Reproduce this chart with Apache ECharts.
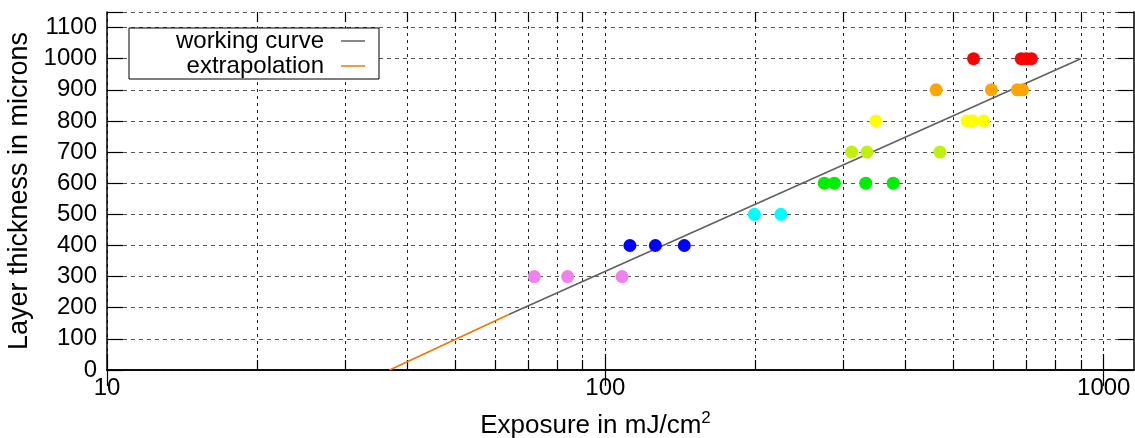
<!DOCTYPE html>
<html>
<head>
<meta charset="utf-8">
<script src="https://cdn.jsdelivr.net/npm/echarts@6/dist/echarts.min.js"></script>
<style>
  html, body { margin: 0; padding: 0; background: #fff; }
  #chart { width: 1135px; height: 438px; }
</style>
</head>
<body>
<div id="chart"></div>
<script>
// layer thickness rows (microns) and the exposures measured for each (mJ/cm2)
var thickness = [300, 400, 500, 600, 700, 800, 900, 1000];
var dotColors = ['#ee82ee', '#0000ff', '#00ffff', '#00ee00', '#c0f010', '#ffff00', '#ffa500', '#ff0000'];
var exposures = [
  [72, 84, 108],
  [112, 126, 144],
  [199, 225],
  [275, 288, 333, 378],
  [312, 335, 469],
  [349, 532, 545, 574],
  [461, 595, 671, 687],
  [548, 683, 699, 716]
];

// fitted working curve and its extrapolation down to zero thickness
var workingCurve = [[64, 178], [899, 1000]];
var extrapolation = [[36.9, 0], [64, 178]];

// tick values
var xMajor = [10, 100, 1000];
var xMinor = [20, 30, 40, 50, 60, 70, 80, 90, 200, 300, 400, 500, 600, 700, 800, 900];

var font = 'Liberation Sans, Arial, Helvetica, sans-serif';
var chart = echarts.init(document.getElementById('chart'));

function xAxis(pos, ticks, len, opts) {
  var ax = {
    type: 'log',
    logBase: 10,
    min: 10,
    max: 1150,
    position: pos,
    axisLine: { show: false },
    axisTick: { show: true, inside: true, length: len, customValues: ticks, lineStyle: { color: '#000', width: 1.2 } },
    axisLabel: { show: false },
    splitLine: { show: false },
    minorTick: { show: false }
  };
  return Object.assign(ax, opts || {});
}

var scatterSeries = thickness.map(function (t, i) {
  return {
    name: 'h' + t,
    type: 'scatter',
    symbol: 'circle',
    symbolSize: 13,
    itemStyle: { color: dotColors[i], opacity: 1 },
    z: 5,
    data: exposures[i].map(function (e) { return [e, t]; })
  };
});

chart.setOption({
  animation: false,
  backgroundColor: '#fff',
  textStyle: { fontFamily: font },
  grid: { left: 107, right: 1, top: 12, bottom: 68, outerBoundsMode: 'none', containLabel: false },
  legend: {
    data: ['working curve', 'extrapolation'],
    orient: 'vertical',
    left: 129,
    top: 28,
    align: 'right',
    icon: 'rect',
    itemGap: 1,
    itemWidth: 24,
    itemHeight: 1.5,
    padding: [1, 14, 1, 8],
    borderColor: '#000',
    borderWidth: 1,
    borderRadius: 0,
    backgroundColor: '#fff',
    formatter: function (name) { return '{t|' + name + '}'; },
    textStyle: {
      fontFamily: font,
      fontSize: 24,
      color: '#000',
      rich: { t: { fontFamily: font, fontSize: 24, lineHeight: 24, width: 187, align: 'right', padding: [0, 12, 0, 0] } }
    }
  },
  xAxis: [
    xAxis('bottom', xMajor, 16, {
      axisLine: { show: true, lineStyle: { color: '#000', width: 1.5 } },
      axisLabel: {
        show: true, customValues: xMajor, margin: 6, fontSize: 24, color: '#000', fontFamily: font,
        formatter: function (v) { return String(Math.round(v)); }
      },
      splitLine: { show: true, lineStyle: { color: '#222', width: 1, type: [3, 4] } },
      name: 'Exposure in mJ/cm{sup|2}',
      nameLocation: 'middle',
      nameGap: 40,
      nameTextStyle: {
        fontSize: 26, color: '#000', fontFamily: font, padding: [0, 50, 0, 0],
        rich: { sup: { fontSize: 17, color: '#000', fontFamily: font, padding: [0, 0, 14, 0] } }
      }
    }),
    xAxis('top', xMajor, 16, {
      axisLine: { show: true, lineStyle: { color: '#000', width: 1.5 } }
    }),
    xAxis('top', xMinor, 10, {
      splitLine: { show: true, lineStyle: { color: '#222', width: 1, type: [3, 4] } }
    }),
    xAxis('bottom', xMinor, 10)
  ],
  yAxis: [
    {
      type: 'value',
      min: 0,
      max: 1150,
      interval: 100,
      position: 'left',
      axisLine: { show: true, lineStyle: { color: '#000', width: 1.5 } },
      axisTick: { show: true, inside: true, length: 16, lineStyle: { color: '#000', width: 1.2 } },
      axisLabel: {
        margin: 10, fontSize: 24, color: '#000', fontFamily: font,
        formatter: function (v) { return v > 1100 ? '' : v; }
      },
      splitLine: { show: true, lineStyle: { color: '#555', width: 1, type: [4, 4] } },
      name: 'Layer thickness in microns',
      nameLocation: 'middle',
      nameRotate: 90,
      nameGap: 68,
      nameTextStyle: { fontSize: 27, color: '#000', fontFamily: font }
    },
    {
      type: 'value',
      min: 0,
      max: 1150,
      interval: 100,
      position: 'right',
      axisLine: { show: true, lineStyle: { color: '#000', width: 1.5 } },
      axisTick: { show: true, inside: true, length: 16, lineStyle: { color: '#000', width: 1.2 } },
      axisLabel: { show: false },
      splitLine: { show: false }
    }
  ],
  series: [
    {
      name: 'working curve',
      type: 'line',
      symbol: 'none',
      data: workingCurve,
      lineStyle: { color: '#606060', width: 1.6 },
      itemStyle: { color: '#606060' },
      z: 3
    },
    {
      name: 'extrapolation',
      type: 'line',
      symbol: 'none',
      data: extrapolation,
      lineStyle: { color: '#f07800', width: 1.6 },
      itemStyle: { color: '#f07800' },
      z: 3
    }
  ].concat(scatterSeries)
});
</script>
</body>
</html>
